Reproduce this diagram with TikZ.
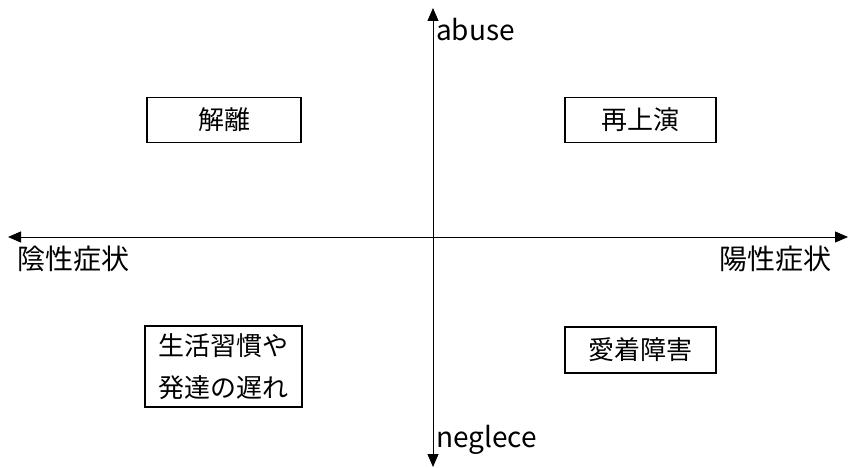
\documentclass[tikz,border=0pt]{standalone}
\usepackage{fontspec}
\setmainfont{Noto Sans CJK JP}
\usetikzlibrary{arrows.meta}
\begin{document}
\begin{tikzpicture}[x=1pt,y=-1pt,
  axis/.style={line width=1pt,{Triangle[length=13pt,width=11pt]}-{Triangle[length=13pt,width=11pt]}},
  lbl/.style={font=\fontsize{28}{32}\selectfont,inner sep=0pt},
  qbox/.style={draw,line width=1.6pt,font=\fontsize{26}{30}\selectfont,inner sep=0pt,align=center}]
\useasboundingbox (0,0) rectangle (848,468);
\coordinate (top) at (433,8);
\coordinate (bot) at (433,467);
\coordinate (lft) at (8,237);
\coordinate (rgt) at (848,237);
\draw[axis] (lft) -- (rgt);
\draw[axis] (bot) -- (top);
\node[lbl,anchor=west] (ab) at (436,30) {abuse};
\node[lbl,anchor=west] (ng) at (436,440) {neglece};
\node[lbl,anchor=west] (neg) at (17,259) {陰性症状};
\node[lbl,anchor=east] (pos) at (832,259) {陽性症状};
\node[qbox,minimum width=154pt,minimum height=45pt] (k) at (224,120) {解離};
\node[qbox,minimum width=151pt,minimum height=45pt] (s) at (640.5,120) {再上演};
\node[qbox,minimum width=151pt,minimum height=46pt] (a) at (640.5,350) {愛着障害};
\node[qbox,minimum width=157pt,minimum height=81pt,font=\fontsize{26}{42}\selectfont] (l) at (223.5,366.5) {生活習慣や\\発達の遅れ};
\end{tikzpicture}
\end{document}
